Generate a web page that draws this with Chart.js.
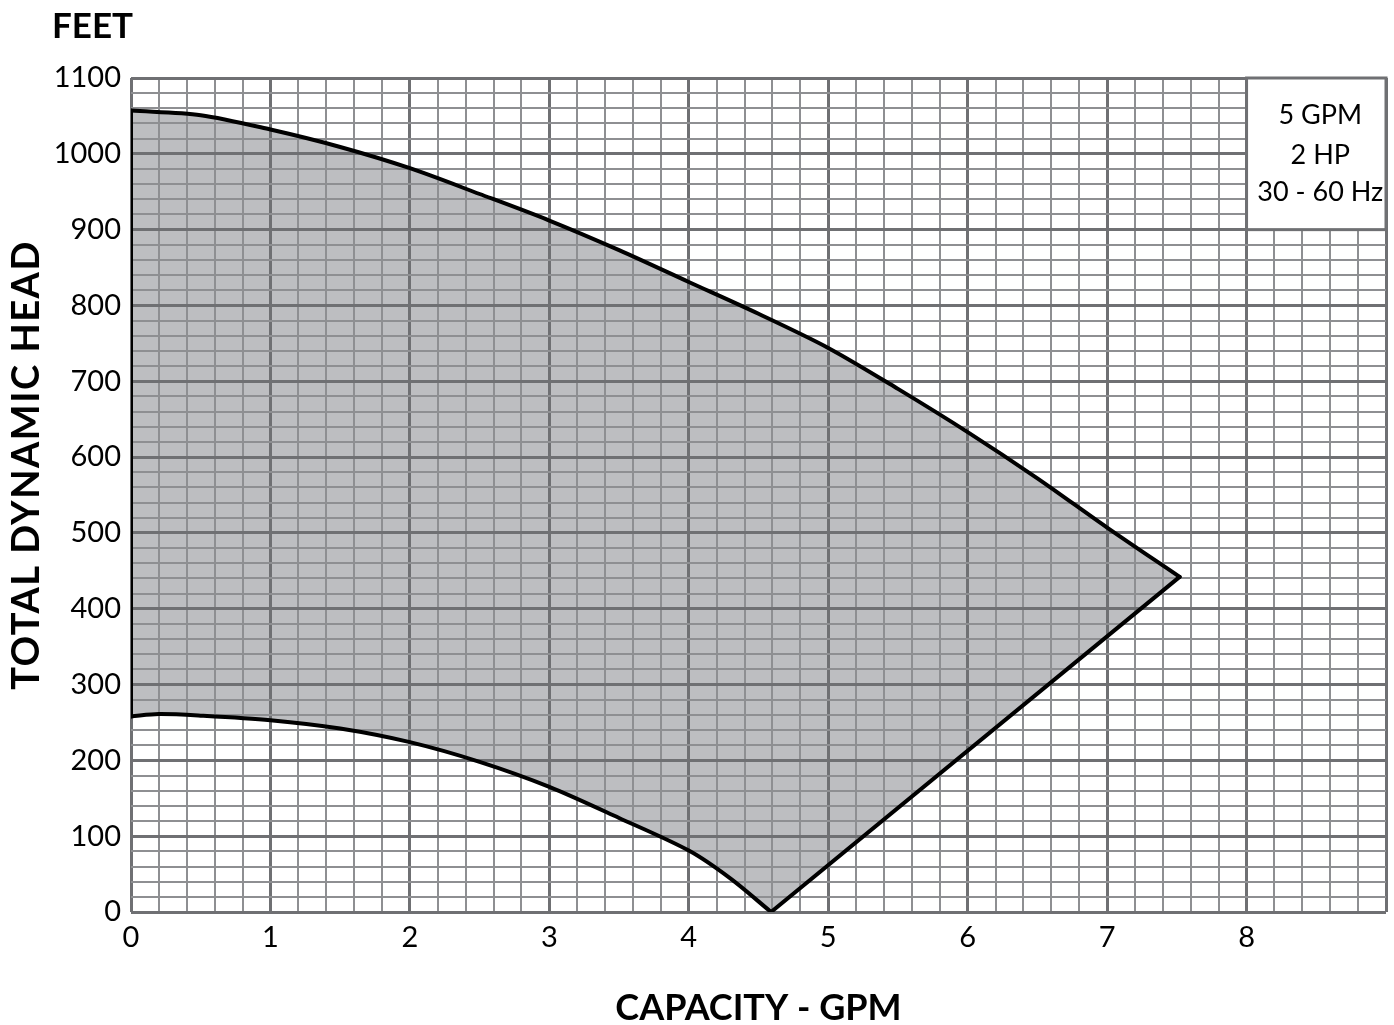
<!DOCTYPE html>
<html lang="en">
<head>
    <meta charset="UTF-8">
    <title>Pump Curve - 5 GPM 2 HP</title>
    <script src="https://cdn.jsdelivr.net/npm/chart.js"></script>
    <style>
        html, body { margin: 0; padding: 0; background: #fff; }
        #wrap { width: 1394px; height: 1025px; }
    </style>
</head>
<body>
    <div id="wrap"><canvas id="pumpChart" width="1394" height="1025"></canvas></div>

    <script>
        // x ticks (GPM) and y ticks (feet)
        const xMin = 0, xMax = 9, xStep = 0.2;
        const yMin = 0, yMax = 1100, yStep = 20;
        const legendLines = ["5 GPM", "2 HP", "30 - 60 Hz"];

        // upper edge of the operating range (60 Hz)
        const topX = [0, 0.5, 1, 1.5, 2, 2.5, 3, 3.5, 4, 4.5, 5, 5.5, 6, 6.5, 7, 7.52];
        const topY = [1057, 1051, 1032, 1009, 981, 947, 912, 873, 831, 789, 744, 690, 633, 572, 507, 442];
        // lower edge (30 Hz)
        const lowX = [0, 0.2, 0.5, 1, 1.5, 2, 2.5, 3, 3.5, 4, 4.3, 4.59];
        const lowY = [258, 261, 259, 253, 242, 224, 198, 165, 124, 81, 44, 0];

        const MAJOR = "#6f7073";
        const MINOR = "#8e8f92";
        const FONT = "Lato, 'Open Sans', sans-serif";

        const topPts = topX.map((x, i) => ({ x, y: topY[i] }));
        const lowPts = lowX.map((x, i) => ({ x, y: lowY[i] }));
        const shapePts = topPts.concat(lowPts.slice().reverse(), [topPts[0]]);

        function isMajorX(v) { return Math.abs(v - Math.round(v)) < 1e-6; }
        function isMajorY(v) { return Math.abs(v % 100) < 1e-6; }

        const extras = {
            id: "extras",
            afterDraw(chart) {
                const ctx = chart.ctx;
                const xs = chart.scales.x, ys = chart.scales.y;

                // info box in the top right cell
                const l = xs.getPixelForValue(8), r = xs.getPixelForValue(9);
                const t = ys.getPixelForValue(1100), b = ys.getPixelForValue(900);
                ctx.save();
                ctx.fillStyle = "#fff";
                ctx.fillRect(l, t, r - l, b - t);
                ctx.strokeStyle = MAJOR;
                ctx.lineWidth = 3;
                ctx.strokeRect(l, t, r - l, b - t);
                ctx.fillStyle = "#000";
                ctx.font = "27px " + FONT;
                ctx.textAlign = "center";
                ctx.textBaseline = "middle";
                const cx = (l + r) / 2 + 4, cy = (t + b) / 2;
                ctx.fillText(legendLines[0], cx, cy - 39);
                ctx.fillText(legendLines[1], cx, cy + 1);
                ctx.fillText(legendLines[2], cx, cy + 38);

                // axis titles
                ctx.font = "bold 35px " + FONT;
                ctx.textAlign = "left";
                ctx.textBaseline = "alphabetic";
                ctx.fillText("FEET", 52, 38);

                ctx.font = "bold 36px " + FONT;
                ctx.textAlign = "center";
                ctx.fillText("CAPACITY - GPM", (xs.left + xs.right) / 2, 1020);

                ctx.font = "bold 38px " + FONT;
                ctx.letterSpacing = "1.5px";
                ctx.textBaseline = "middle";
                ctx.translate(27, 465);
                ctx.rotate(-Math.PI / 2);
                ctx.fillText("TOTAL DYNAMIC HEAD", 0, 0);
                ctx.restore();
            }
        };

        const outline = { borderColor: "#000", borderWidth: 4, pointRadius: 0, fill: false,
                          borderCapStyle: "round", borderJoinStyle: "round" };

        new Chart(document.getElementById("pumpChart"), {
            type: "scatter",
            data: {
                datasets: [
                    { data: shapePts, showLine: true, fill: "shape", backgroundColor: "#bdbec1",
                      borderWidth: 0, borderColor: "rgba(0,0,0,0)", pointRadius: 0, tension: 0 },
                    Object.assign({ data: topPts, showLine: true, tension: 0.3 }, outline),
                    Object.assign({ data: lowPts, showLine: true, tension: 0.3 }, outline),
                    Object.assign({ data: [topPts[topPts.length - 1], lowPts[lowPts.length - 1]], showLine: true }, outline),
                    Object.assign({ data: [lowPts[0], topPts[0]], showLine: true }, outline)
                ]
            },
            options: {
                responsive: false,
                animation: false,
                layout: { padding: { left: 0, right: 7, top: 78, bottom: 0 } },
                plugins: {
                    legend: { display: false },
                    tooltip: { enabled: false },
                    filler: { drawTime: "beforeDraw" }   // fill under the grid
                },
                scales: {
                    x: {
                        type: "linear", min: xMin, max: xMax,
                        afterFit(s) { s.height = 113; },
                        ticks: {
                            stepSize: xStep, autoSkip: false, maxRotation: 0, padding: 8,
                            color: "#000", font: { family: FONT, size: 29 },
                            callback: v => (isMajorX(v) && Math.round(v) < xMax) ? Math.round(v) : ""
                        },
                        grid: {
                            drawTicks: false,
                            color: c => isMajorX(c.tick.value) ? MAJOR : MINOR,
                            lineWidth: c => isMajorX(c.tick.value) ? 3 : 2
                        },
                        border: { display: false }
                    },
                    y: {
                        min: yMin, max: yMax,
                        afterFit(s) { s.width = 131; },
                        ticks: {
                            stepSize: yStep, autoSkip: false, padding: 10,
                            color: "#000", font: { family: FONT, size: 29 },
                            callback: v => isMajorY(v) ? v : ""
                        },
                        grid: {
                            drawTicks: false,
                            color: c => isMajorY(c.tick.value) ? MAJOR : MINOR,
                            lineWidth: c => isMajorY(c.tick.value) ? 3 : 2
                        },
                        border: { display: false }
                    }
                }
            },
            plugins: [extras]
        });
    </script>
</body>
</html>
